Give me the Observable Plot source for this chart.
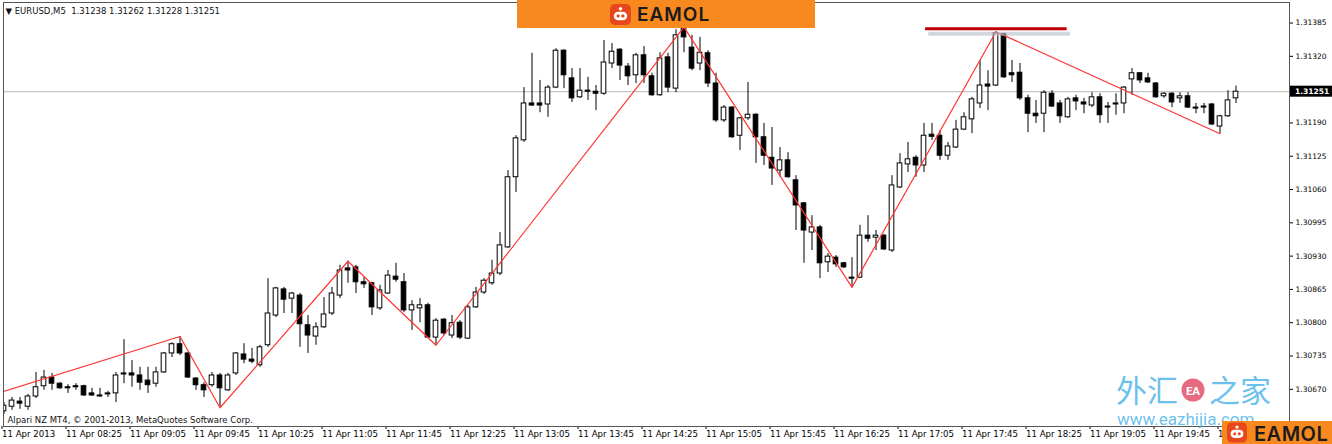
<!DOCTYPE html>
<html>
<head>
<meta charset="utf-8">
<script src="https://cdn.jsdelivr.net/npm/d3@7"></script>
<script src="https://cdn.jsdelivr.net/npm/@observablehq/plot@0.6"></script>
<style>
  html, body { margin: 0; padding: 0; background: #fff; }
  #chart { position: relative; width: 1332px; height: 444px; overflow: hidden; }
</style>
</head>
<body>
<div id="chart"></div>
<script>
// EURUSD, 5-minute bars, 11 Apr 2013, 07:45 onwards
const symbol = "EURUSD,M5";

const opens = [
  1.30627,1.30636,1.30646,1.30636,1.30656,1.30676,1.30693,1.30681,1.30674,1.30676,
  1.30676,1.30662,1.30658,1.30662,1.30662,1.30701,1.30701,1.30697,1.30687,1.30681,
  1.30703,1.30740,1.30758,1.30740,1.30691,1.30678,1.30678,1.30697,1.30668,1.30701,
  1.30738,1.30728,1.30717,1.30756,1.30814,1.30865,1.30847,1.30853,1.30795,1.30773,
  1.30791,1.30818,1.30853,1.30906,1.30908,1.30879,1.30877,1.30828,1.30857,1.30890,
  1.30879,1.30824,1.30828,1.30834,1.30771,1.30806,1.30775,1.30800,1.30769,1.30830,
  1.30859,1.30877,1.30896,1.30947,1.31084,1.31156,1.31228,1.31228,1.31226,1.31259,
  1.31331,1.31277,1.31240,1.31253,1.31251,1.31247,1.31306,1.31333,1.31300,1.31283,
  1.31322,1.31281,1.31244,1.31318,1.31257,1.31374,1.31337,1.31306,1.31326,1.31267,
  1.31195,1.31220,1.31165,1.31199,1.31206,1.31162,1.31122,1.31097,1.31117,1.31078,
  1.31033,1.30976,1.30986,1.30918,1.30927,1.30916,1.30888,1.30888,1.30970,1.30966,
  1.30970,1.30941,1.31064,1.31109,1.31122,1.31107,1.31167,1.31165,1.31126,1.31142,
  1.31177,1.31197,1.31228,1.31265,1.31263,1.31363,1.31287,1.31288,1.31238,1.31208,
  1.31208,1.31247,1.31228,1.31201,1.31238,1.31230,1.31224,1.31240,1.31222,1.31226,
  1.31228,1.31275,1.31287,1.31277,1.31267,1.31242,1.31247,1.31238,1.31242,1.31220,
  1.31220,1.31226,1.31183,1.31203,1.31238
];

const highs = [
  1.30644,1.30654,1.30654,1.30660,1.30703,1.30707,1.30701,1.30683,1.30679,1.30681,
  1.30678,1.30672,1.30672,1.30666,1.30703,1.30767,1.30726,1.30713,1.30713,1.30713,
  1.30742,1.30761,1.30773,1.30742,1.30693,1.30683,1.30703,1.30701,1.30701,1.30742,
  1.30759,1.30750,1.30756,1.30886,1.30869,1.30869,1.30859,1.30857,1.30814,1.30800,
  1.30849,1.30869,1.30912,1.30920,1.30912,1.30888,1.30879,1.30873,1.30902,1.30916,
  1.30896,1.30843,1.30847,1.30838,1.30808,1.30808,1.30814,1.30804,1.30834,1.30869,
  1.30886,1.30922,1.30976,1.31097,1.31165,1.31259,1.31326,1.31273,1.31263,1.31335,
  1.31333,1.31296,1.31296,1.31279,1.31263,1.31351,1.31345,1.31335,1.31306,1.31326,
  1.31339,1.31287,1.31327,1.31326,1.31372,1.31377,1.31361,1.31357,1.31331,1.31287,
  1.31224,1.31222,1.31201,1.31269,1.31208,1.31189,1.31181,1.31142,1.31132,1.31087,
  1.31035,1.31009,1.30990,1.30935,1.30931,1.30918,1.30927,1.30990,1.31009,1.30980,
  1.30972,1.31087,1.31130,1.31152,1.31126,1.31189,1.31189,1.31175,1.31152,1.31195,
  1.31210,1.31240,1.31312,1.31292,1.31368,1.31365,1.31312,1.31306,1.31244,1.31234,
  1.31253,1.31253,1.31234,1.31240,1.31244,1.31238,1.31249,1.31247,1.31230,1.31247,
  1.31261,1.31296,1.31288,1.31287,1.31269,1.31249,1.31249,1.31249,1.31249,1.31228,
  1.31228,1.31228,1.31205,1.31253,1.31262
];

const lows = [
  1.30621,1.30629,1.30631,1.30629,1.30652,1.30668,1.30668,1.30670,1.30662,1.30668,
  1.30656,1.30656,1.30654,1.30654,1.30644,1.30681,1.30674,1.30668,1.30662,1.30674,
  1.30701,1.30732,1.30736,1.30691,1.30668,1.30654,1.30674,1.30634,1.30666,1.30697,
  1.30720,1.30720,1.30713,1.30752,1.30810,1.30818,1.30818,1.30752,1.30740,1.30756,
  1.30789,1.30814,1.30847,1.30877,1.30857,1.30867,1.30814,1.30824,1.30855,1.30879,
  1.30820,1.30785,1.30800,1.30769,1.30756,1.30775,1.30769,1.30767,1.30767,1.30828,
  1.30855,1.30873,1.30892,1.30945,1.31054,1.31152,1.31222,1.31210,1.31201,1.31257,
  1.31257,1.31230,1.31238,1.31234,1.31214,1.31244,1.31296,1.31273,1.31263,1.31267,
  1.31267,1.31242,1.31242,1.31249,1.31249,1.31327,1.31292,1.31292,1.31259,1.31191,
  1.31191,1.31160,1.31136,1.31195,1.31111,1.31107,1.31068,1.31084,1.31082,1.30980,
  1.30916,1.30941,1.30886,1.30898,1.30908,1.30906,1.30869,1.30886,1.30957,1.30941,
  1.30941,1.30937,1.31062,1.31093,1.31084,1.31093,1.31156,1.31117,1.31117,1.31140,
  1.31175,1.31169,1.31218,1.31214,1.31261,1.31277,1.31269,1.31234,1.31171,1.31189,
  1.31171,1.31220,1.31189,1.31199,1.31214,1.31208,1.31220,1.31189,1.31189,1.31205,
  1.31208,1.31244,1.31267,1.31267,1.31238,1.31238,1.31220,1.31228,1.31218,1.31208,
  1.31208,1.31185,1.31169,1.31201,1.31228
];

const closes = [
  1.30638,1.30648,1.30642,1.30656,1.30674,1.30693,1.30681,1.30672,1.30672,1.30674,
  1.30658,1.30658,1.30656,1.30660,1.30697,1.30699,1.30697,1.30683,1.30678,1.30703,
  1.30740,1.30758,1.30740,1.30693,1.30678,1.30668,1.30697,1.30672,1.30697,1.30740,
  1.30728,1.30724,1.30752,1.30818,1.30867,1.30845,1.30857,1.30797,1.30775,1.30791,
  1.30816,1.30857,1.30902,1.30902,1.30879,1.30875,1.30830,1.30863,1.30892,1.30884,
  1.30824,1.30834,1.30834,1.30771,1.30804,1.30779,1.30799,1.30771,1.30830,1.30859,
  1.30882,1.30896,1.30951,1.31084,1.31160,1.31228,1.31224,1.31224,1.31259,1.31331,
  1.31283,1.31238,1.31253,1.31251,1.31247,1.31308,1.31329,1.31302,1.31281,1.31322,
  1.31283,1.31244,1.31316,1.31259,1.31361,1.31357,1.31296,1.31327,1.31267,1.31195,
  1.31220,1.31162,1.31199,1.31206,1.31162,1.31126,1.31101,1.31117,1.31084,1.31029,
  1.30980,1.30986,1.30916,1.30929,1.30914,1.30908,1.30886,1.30970,1.30964,1.30970,
  1.30943,1.31068,1.31111,1.31119,1.31107,1.31165,1.31163,1.31126,1.31144,1.31177,
  1.31201,1.31236,1.31263,1.31261,1.31365,1.31279,1.31283,1.31238,1.31208,1.31203,
  1.31249,1.31222,1.31203,1.31236,1.31232,1.31226,1.31240,1.31205,1.31220,1.31228,
  1.31259,1.31287,1.31273,1.31269,1.31240,1.31247,1.31230,1.31242,1.31220,1.31218,
  1.31222,1.31187,1.31203,1.31234,1.31251
];

// ZigZag pivots (bar index, price); the first one enters from the left edge
const zigBars   = [-0.4, 22, 27, 43, 54, 85, 106, 124, 152];
const zigPrices = [1.30664, 1.30773, 1.30634, 1.30920, 1.30756, 1.31377, 1.30869, 1.31368, 1.31169];

// Hand-drawn resistance line near the double top
const resistance = 1.31374;
const resFromBar = 115.2;
const resToBar   = 132.9;

// Price-scale labels
const yTicks = [1.30670, 1.30735, 1.30800, 1.30865, 1.30930, 1.30995, 1.31060, 1.31125, 1.31190, 1.31320, 1.31385];

// Time-scale labels every 8 bars (40 minutes)
const xTickBars = [0, 8, 16, 24, 32, 40, 48, 56, 64, 72, 80, 88, 96, 104, 112, 120, 128, 136, 144, 152];
const xTickLabels = [
  "11 Apr 2013", "11 Apr 08:25", "11 Apr 09:05", "11 Apr 09:45", "11 Apr 10:25",
  "11 Apr 11:05", "11 Apr 11:45", "11 Apr 12:25", "11 Apr 13:05", "11 Apr 13:45",
  "11 Apr 14:25", "11 Apr 15:05", "11 Apr 15:45", "11 Apr 16:25", "11 Apr 17:05",
  "11 Apr 17:45", "11 Apr 18:25", "11 Apr 19:05", "11 Apr 19:45", "11 Apr 20:25"
];

const credit = "Alpari NZ MT4, \u00A9 2001-2013, MetaQuotes Software Corp.";

const bars = opens.map((o, i) => ({ i, open: o, high: highs[i], low: lows[i], close: closes[i] }));
const zigzag = zigBars.map((b, k) => ({ i: b, price: zigPrices[k] }));
const labelOf = new Map(xTickBars.map((b, k) => [b, xTickLabels[k]]));
const lastBar = bars[bars.length - 1];
const lastPrice = lastBar.close;
const header = `\u25BC ${symbol}  ${[lastBar.open, lastBar.high, lastBar.low, lastBar.close].map(v => v.toFixed(5)).join(" ")}`;

const font = "DejaVu Sans, Verdana, sans-serif";

const chart = Plot.plot({
  width: 1332,
  height: 444,
  marginLeft: 3,
  marginRight: 43,
  marginTop: 2,
  marginBottom: 18,
  style: { fontFamily: font, background: "#fff", color: "#000", overflow: "visible" },
  x: { domain: [-0.0625, 160.6875], label: null },
  y: { domain: [1.305974, 1.314251], label: null },
  marks: [
    // bid line
    Plot.ruleY([lastPrice], { stroke: "#c6c6c6", strokeWidth: 1.3 }),
    // wicks
    Plot.ruleX(bars, { x: "i", y1: "low", y2: "high", stroke: "#000", strokeWidth: 1, clip: true }),
    // bodies: hollow for up bars, filled for down bars
    Plot.rect(bars, {
      x1: d => d.i - 0.29, x2: d => d.i + 0.29,
      y1: "open", y2: "close",
      fill: d => (d.close >= d.open ? "#fff" : "#000"),
      stroke: "#000", strokeWidth: 1, clip: true
    }),
    // ZigZag indicator
    Plot.line(zigzag, { x: "i", y: "price", stroke: "#ff3434", strokeWidth: 1.2, clip: true }),
    // resistance line with its soft shadow
    Plot.ruleY([resistance], { x1: resFromBar + 0.4, x2: resToBar + 0.4, dy: 5, stroke: "#b4bcc6", strokeWidth: 4, strokeOpacity: 0.6 }),
    Plot.ruleY([resistance], { x1: resFromBar, x2: resToBar, stroke: "#c00000", strokeWidth: 3 }),
    // price scale
    Plot.axisY({
      anchor: "right", ticks: yTicks, tickFormat: d => d.toFixed(5),
      tickSize: 3, tickPadding: 3, fontSize: 7.5, label: null, stroke: "#000"
    }),
    // time scale
    Plot.axisX({
      ticks: xTickBars, tickFormat: d => labelOf.get(d), textAnchor: "start",
      tickSize: 3, tickPadding: 1, fontSize: 8.6, label: null, dx: -2, stroke: "#000"
    }),
    Plot.frame({ stroke: "#555" }),
    Plot.text([header], { frameAnchor: "top-left", dx: 2, dy: 5, fontSize: 8.5, fill: "#111", textAnchor: "start" }),
    Plot.text([credit], { frameAnchor: "bottom-left", dx: 4, dy: -4, fontSize: 8.5, fill: "#111", textAnchor: "start" })
  ]
});

document.getElementById("chart").appendChild(chart);

const svg = d3.select(chart);
const yPos = chart.scale("y").apply(lastPrice);

// current bid box on the price scale
svg.append("rect").attr("x", 1290).attr("y", yPos - 5.5).attr("width", 42).attr("height", 11).attr("fill", "#000");
svg.append("text").attr("x", 1295).attr("y", yPos + 3).attr("fill", "#fff").attr("text-anchor", "start")
  .attr("font-family", font).attr("font-size", 7.5).attr("font-weight", "bold").text(lastPrice.toFixed(5));

// watermark
const wm = svg.append("g").attr("font-family", "'Noto Sans CJK SC', sans-serif").attr("fill", "#4fb6ea")
  .attr("fill-opacity", 0.85).attr("text-anchor", "start");
wm.append("text").attr("x", 1116).attr("y", 402).attr("font-size", 31).text("外汇");
wm.append("text").attr("x", 1209).attr("y", 402).attr("font-size", 31).text("之家");
wm.append("text").attr("x", 1117).attr("y", 425).attr("font-size", 17).attr("font-family", "Roboto, sans-serif").text("www.eazhijia.com");
svg.append("circle").attr("cx", 1193).attr("cy", 390).attr("r", 11.5).attr("fill", "#e2506a").attr("fill-opacity", 0.85);
svg.append("text").attr("x", 1193).attr("y", 394.5).attr("text-anchor", "middle").attr("fill", "#fff")
  .attr("font-family", "Roboto, sans-serif").attr("font-weight", "bold").attr("font-size", 11.5).text("EA");

// brand badge icon
function robot(g, x, y, s) {
  const k = s / 22;
  g.append("rect").attr("x", x).attr("y", y).attr("width", s).attr("height", s).attr("rx", 5 * k).attr("fill", "#e8471d");
  g.append("circle").attr("cx", x + 11 * k).attr("cy", y + 5 * k).attr("r", 1.8 * k).attr("fill", "#fff");
  g.append("rect").attr("x", x + 4 * k).attr("y", y + 8 * k).attr("width", 14 * k).attr("height", 9 * k).attr("rx", 4.5 * k).attr("fill", "#fff");
  g.append("circle").attr("cx", x + 8.5 * k).attr("cy", y + 12.5 * k).attr("r", 1.7 * k).attr("fill", "#e8471d");
  g.append("circle").attr("cx", x + 13.5 * k).attr("cy", y + 12.5 * k).attr("r", 1.7 * k).attr("fill", "#e8471d");
}

// top banner
const banner = svg.append("g").attr("text-anchor", "start");
banner.append("rect").attr("x", 517).attr("y", 0).attr("width", 298).attr("height", 28).attr("fill", "#f7891f");
robot(banner, 610, 4, 21);
banner.append("text").attr("x", 637).attr("y", 21).attr("font-family", "Inter, Lato, sans-serif")
  .attr("font-weight", 600).attr("font-size", 19).attr("letter-spacing", 1).attr("fill", "#1b1b1b").text("EAMOL");

// bottom-right badge
const badge = svg.append("g").attr("text-anchor", "start");
badge.append("rect").attr("x", 1222).attr("y", 421).attr("width", 110).attr("height", 23).attr("fill", "#f7891f");
robot(badge, 1227, 422.5, 20);
badge.append("text").attr("x", 1254).attr("y", 440.5).attr("font-family", "Inter, Lato, sans-serif")
  .attr("font-weight", 600).attr("font-size", 20).attr("letter-spacing", 0.5).attr("fill", "#1b1b1b").text("EAMOL");
</script>
</body>
</html>
